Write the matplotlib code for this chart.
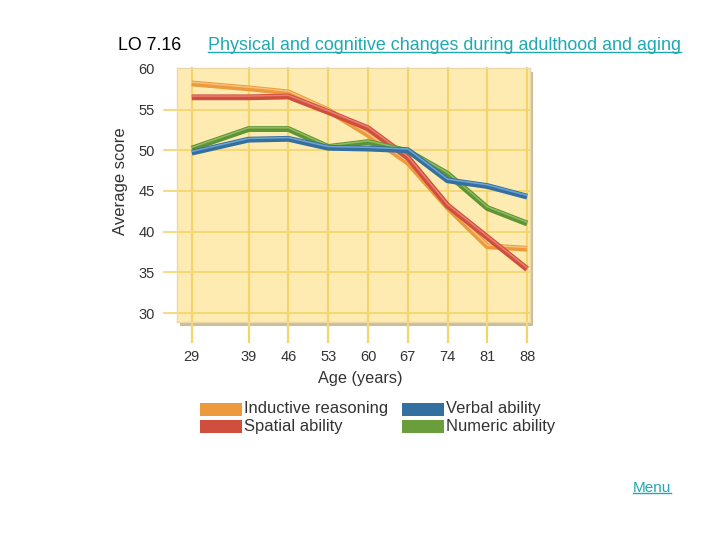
import matplotlib
matplotlib.use("Agg")
import matplotlib.pyplot as plt
from matplotlib.patches import Rectangle
from matplotlib.lines import Line2D
import matplotlib.transforms as mtransforms

ages = [29, 39, 46, 53, 60, 67, 74, 81, 88]
inductive = [58.2, 57.6, 57.1, 54.9, 51.9, 48.5, 43.0, 38.2, 37.9]
spatial = [56.5, 56.5, 56.6, 54.7, 52.7, 49.1, 43.2, 39.3, 35.4]
verbal = [49.7, 51.3, 51.4, 50.3, 50.2, 50.0, 46.3, 45.6, 44.3]
numeric = [50.2, 52.6, 52.6, 50.4, 51.0, 49.9, 47.1, 42.9, 41.0]
yticks = [30, 35, 40, 45, 50, 55, 60]

series = [
    ("Inductive reasoning", inductive, "#EC9A3C", "#F9C98A"),
    ("Spatial ability", spatial, "#CF4E3E", "#EE8C7C"),
    ("Numeric ability", numeric, "#5E9435", "#9CC46A"),
    ("Verbal ability", verbal, "#34709F", "#7FB0DA"),
]

SANS = ["Liberation Sans", "DejaVu Sans"]
TEAL = "#1FA9B3"
TXT = "#333333"

W, H = 720, 540
fig = plt.figure(figsize=(7.2, 5.4), dpi=100)
fig.patch.set_facecolor("white")

def fx(px):
    return px / W

def fy(py):
    return 1 - py / H

L, R, T, B = 177, 530, 68, 322
# shadow
fig.add_artist(Rectangle((fx(L + 3), fy(B + 4)), (R - L) / W, (B - T) / H,
                         transform=fig.transFigure, facecolor="#C9BD9C",
                         edgecolor="none", zorder=0))
ax = fig.add_axes([fx(L), fy(B), (R - L) / W, (B - T) / H])
ax.set_facecolor("#FDEBB2")
for s in ax.spines.values():
    s.set_color("#EAD9A6")
    s.set_linewidth(1.0)
ax.set_xlim(26.4, 88.5)
ax.set_ylim(28.9, 60.1)

ytr = ax.get_yaxis_transform()
xtr = ax.get_xaxis_transform()
for y in yticks[:-1]:
    ax.plot([-0.037, 1.0], [y, y], transform=ytr, color="#F5D46A", lw=1.2,
            clip_on=False, zorder=1)
for a in ages:
    ax.plot([a, a], [-0.079, 1.0], transform=xtr, color="#F5D46A", lw=1.6,
            clip_on=False, zorder=1)

for i, (name, vals, col, hi) in enumerate(series):
    ax.plot(ages, vals, color=col, lw=4.2, solid_capstyle="butt",
            solid_joinstyle="round", zorder=3 + i)
    off = mtransforms.offset_copy(ax.transData, fig=fig, x=0, y=0.9, units="points")
    ax.plot(ages, vals, color=hi, lw=1.1, solid_joinstyle="round",
            transform=off, alpha=0.8, zorder=3 + i)

ax.set_xticks(ages)
ax.set_xticklabels([str(a) for a in ages], family=SANS, fontsize=10.5, color=TXT)
ax.set_yticks(yticks)
ax.set_yticklabels([str(y) for y in yticks], family=SANS, fontsize=10.5, color=TXT)
ax.tick_params(axis="x", length=0, pad=20)
ax.tick_params(axis="y", length=0, pad=16)
ax.grid(False)

fig.text(fx(360), fy(379), "Age (years)", family=SANS, fontsize=11.7,
         color=TXT, ha="center", va="center")
fig.text(fx(120), fy(181), "Average score", family=SANS, fontsize=12,
         color=TXT, ha="center", va="center", rotation=90)

# legend
leg = [("Inductive reasoning", "#EC9A3C", 200, 409),
       ("Spatial ability", "#CF4E3E", 200, 426),
       ("Verbal ability", "#34709F", 402, 409),
       ("Numeric ability", "#6A9E3C", 402, 426)]
for name, col, x0, yc in leg:
    fig.add_artist(Rectangle((fx(x0), fy(yc + 6.5)), 42 / W, 13 / H,
                             transform=fig.transFigure, facecolor=col,
                             edgecolor="none"))
    fig.text(fx(x0 + 44), fy(yc), name, family=SANS, fontsize=11.9,
             color=TXT, ha="left", va="center")

fig.text(fx(118), fy(45), "LO 7.16", family=SANS, fontsize=12.8,
         color="black", ha="left", va="center")
t1 = fig.text(fx(208), fy(45), "Physical and cognitive changes during adulthood and aging",
              family=SANS, fontsize=12.9, color=TEAL, ha="left", va="center")
t2 = fig.text(fx(633), fy(488), "Menu", family=SANS, fontsize=11,
              color=TEAL, ha="left", va="center")

fig.canvas.draw()
r = fig.canvas.get_renderer()
for t in (t1, t2):
    bb = t.get_window_extent(r)
    yl = bb.y0 + 2
    fig.add_artist(Line2D([bb.x0 / W, bb.x1 / W], [yl / H, yl / H],
                          transform=fig.transFigure, color=TEAL, lw=1.0))

fig.savefig("out.png", dpi=100)
